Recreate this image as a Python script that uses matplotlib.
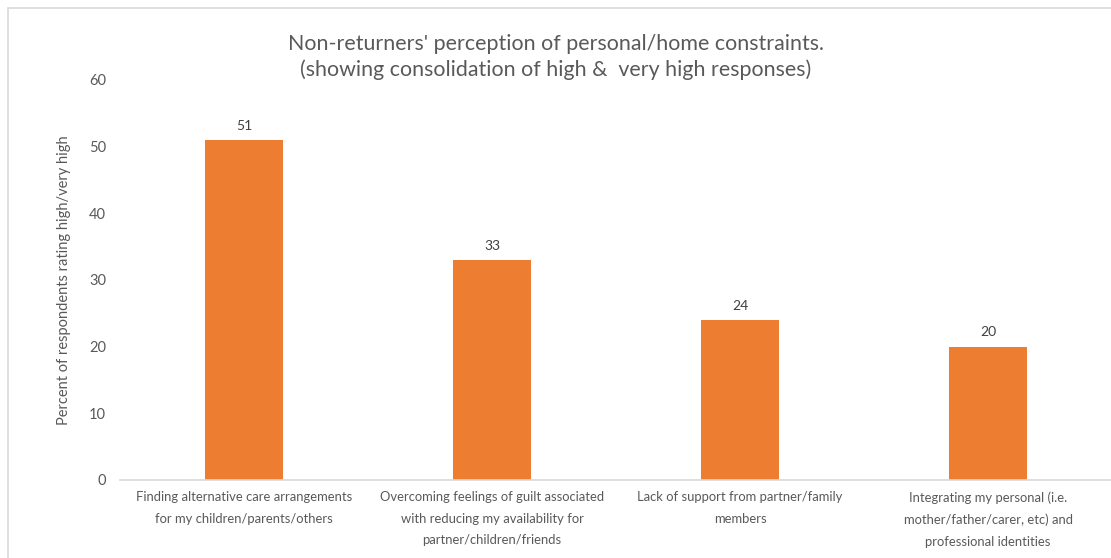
import matplotlib.pyplot as plt
from matplotlib.patches import Rectangle

categories = [
    "Finding alternative care arrangements\nfor my children/parents/others",
    "Overcoming feelings of guilt associated\nwith reducing my availability for\npartner/children/friends",
    "Lack of support from partner/family\nmembers",
    "Integrating my personal (i.e.\nmother/father/carer, etc) and\nprofessional identities",
]
values = [51, 33, 24, 20]
yticks = [0, 10, 20, 30, 40, 50, 60]

plt.rcParams['font.family'] = ['Lato', 'DejaVu Sans']
grey = '#595959'

fig = plt.figure(figsize=(11.11, 5.58), dpi=100)
ax = fig.add_axes([0.108, 0.1398, 0.893, 0.717])

x = range(len(values))
bars = ax.bar(x, values, width=0.315, color='#ED7D31')
for b, v in zip(bars, values):
    ax.annotate(str(v), (b.get_x() + b.get_width() / 2, v), xytext=(0, 6),
                textcoords='offset points', ha='center', va='bottom',
                fontsize=10, color='#404040')

ax.set_xlim(-0.5, len(values) - 0.5)
ax.set_ylim(0, 60)
ax.set_yticks(yticks)
ax.set_xticks(list(x))
ax.set_xticklabels(categories, fontsize=9.4, color=grey, linespacing=1.95)
ax.tick_params(axis='y', labelsize=10.5, labelcolor=grey, length=0, pad=10)
ax.tick_params(axis='x', length=0, pad=8)
for s in ['top', 'right', 'left']:
    ax.spines[s].set_visible(False)
ax.spines['bottom'].set_color('#D9D9D9')
ax.spines['bottom'].set_linewidth(1.2)

ax.set_ylabel('Percent of respondents rating high/very high', fontsize=10.5,
              color=grey, labelpad=13)

fig.text(0.5, 0.898, "Non-returners' perception of personal/home constraints.\n"
         "(showing consolidation of high &  very high responses)",
         ha='center', va='center', fontsize=15.4, color=grey, linespacing=1.3)

# chart frame
fig.patches.append(Rectangle((8 / 1111, -0.1), 1.2, (550 / 558) + 0.1,
                             transform=fig.transFigure, fill=False,
                             edgecolor='#D9D9D9', linewidth=1.2))

fig.savefig('out.png', dpi=100)
